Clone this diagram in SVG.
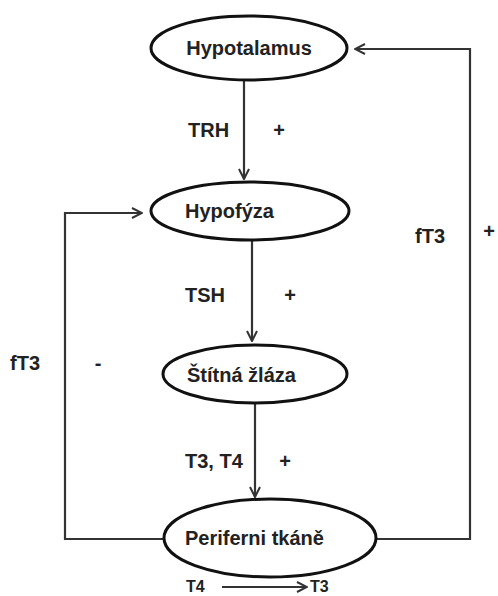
<svg xmlns="http://www.w3.org/2000/svg" width="498" height="596" viewBox="0 0 498 596">
<style>
.node{fill:#fff;stroke:#111;stroke-width:3}
.lbl{font-family:"Liberation Sans",Arial,sans-serif;font-weight:bold;font-size:20px;fill:#222}
.sm{font-family:"Liberation Sans",Arial,sans-serif;font-weight:bold;font-size:16px;fill:#222}
.edge{fill:none;stroke:#333;stroke-width:2.2}
</style>
<defs>
<marker id="ah" viewBox="0 0 12 12" refX="11" refY="6" markerWidth="12" markerHeight="12" markerUnits="userSpaceOnUse" orient="auto">
<path d="M1,1 L11,6 L1,11" fill="none" stroke="#333" stroke-width="2"/>
</marker>
</defs>
<rect width="498" height="596" fill="#fff"/>
<g id="connectors">
<line class="edge" x1="244" y1="80" x2="244" y2="179" marker-end="url(#ah)"/>
<line class="edge" x1="252" y1="240" x2="252" y2="341" marker-end="url(#ah)"/>
<line class="edge" x1="255" y1="403" x2="255" y2="497" marker-end="url(#ah)"/>
<polyline class="edge" points="164,539 65,539 65,213 142,213" marker-end="url(#ah)"/>
<polyline class="edge" points="376,539 470,539 470,49 355,49" marker-end="url(#ah)"/>
<line class="edge" x1="222" y1="587" x2="307" y2="587" marker-end="url(#ah)"/>
<text class="lbl" x="188" y="137">TRH</text>
<text class="lbl" x="279" y="137" text-anchor="middle">+</text>
<text class="lbl" x="185" y="302">TSH</text>
<text class="lbl" x="290" y="302" text-anchor="middle">+</text>
<text class="lbl" x="185" y="468">T3, T4</text>
<text class="lbl" x="285" y="468" text-anchor="middle">+</text>
<text class="lbl" x="10" y="370">fT3</text>
<text class="lbl" x="98" y="370" text-anchor="middle">-</text>
<text class="lbl" x="415" y="243">fT3</text>
<text class="lbl" x="489" y="238" text-anchor="middle">+</text>
<text class="sm" x="186" y="592">T4</text>
<text class="sm" x="310" y="592">T3</text>
</g>
<g id="hypotalamus">
<ellipse class="node" cx="249" cy="48" rx="98" ry="32"/>
<text class="lbl" x="249" y="55" text-anchor="middle">Hypotalamus</text>
</g>
<g id="hypofyza">
<ellipse class="node" cx="250" cy="211" rx="99" ry="29"/>
<text class="lbl" x="185" y="218">Hypofýza</text>
</g>
<g id="stitna-zlaza">
<ellipse class="node" cx="255" cy="374" rx="92" ry="29"/>
<text class="lbl" x="187" y="382">Štítná žláza</text>
</g>
<g id="periferni-tkane">
<ellipse class="node" cx="270" cy="538" rx="106" ry="39"/>
<text class="lbl" x="185" y="545">Periferni tkáně</text>
</g>
</svg>
